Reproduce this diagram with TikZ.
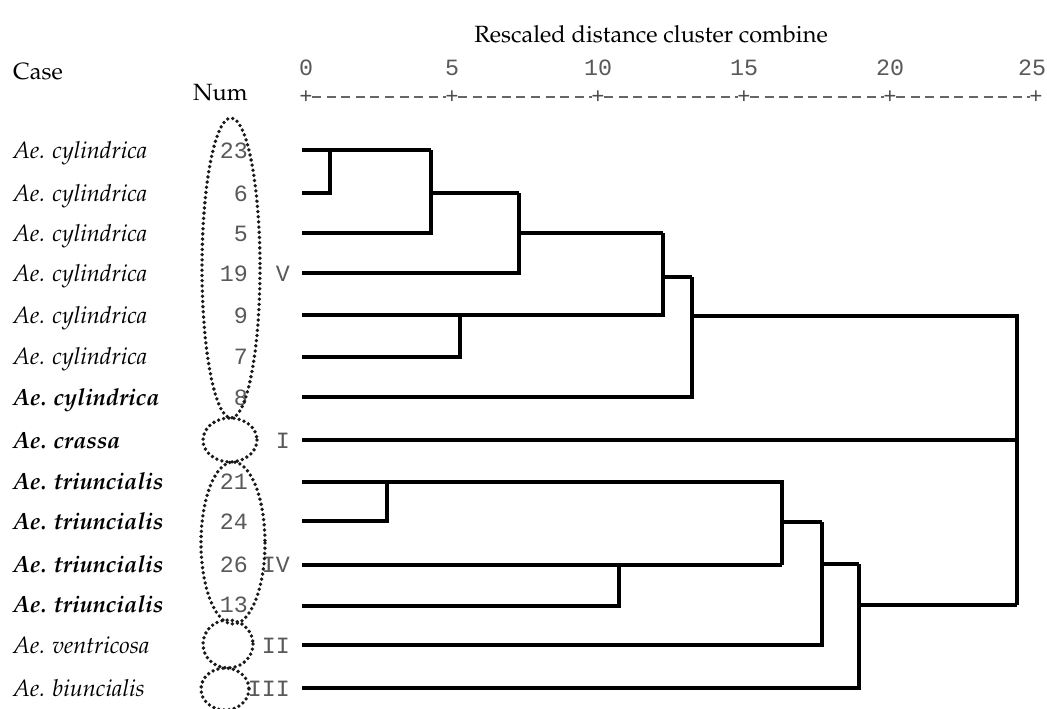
\documentclass[tikz,border=0pt]{standalone}
\usepackage[T1]{fontenc}
\usepackage{fontspec}
\newfontfamily\spssmono{Liberation Mono}
\newcommand\palfont{\fontencoding{T1}\fontfamily{ppl}\selectfont}
\begin{document}
\begin{tikzpicture}[x=1pt,y=-1pt,
  branch/.style={line width=3.2pt,black},
  ring/.style={draw=black!90,line width=3.8pt,dash pattern=on 0pt off 5.2pt,line cap=round},
  caselab/.style={anchor=base west,inner sep=0pt,font=\palfont\fontsize{23.5}{28}\selectfont\itshape},
  caselabb/.style={caselab,font=\palfont\fontsize{23.5}{28}\selectfont\bfseries\itshape},
  numlab/.style={anchor=base east,inner sep=0pt,text=black!65,font=\spssmono\fontsize{23.3}{28}\selectfont},
  axnum/.style={anchor=base,inner sep=0pt,text=black!65,font=\spssmono\fontsize{23.3}{28}\selectfont},
  tickmark/.style={inner sep=0pt,text=black!70,font=\spssmono\fontsize{22}{26}\selectfont},
  axisdash/.style={draw=black!60,line width=1.3pt,dash pattern=on 9pt off 5.6pt},
  head/.style={inner sep=0pt,font=\palfont\fontsize{23.5}{28}\selectfont}]
\useasboundingbox (0,0) rectangle (1047,709);
\fill[white] (0,0) rectangle (1047,709);

% headers
\node[head,anchor=base] (title) at (651,43) {Rescaled distance cluster combine};
\node[head,anchor=base west] (case) at (13,79) {Case};
\node[head,anchor=base west] (num) at (193,100) {Num};

% axis
\foreach \v/\x in {0/306,5/452,10/598,15/744,20/890}
  \node[axnum] (ax\v) at (\x,76) {\v};
\node[axnum] (ax25) at (1032,76) {25};
\foreach \v/\x in {0/306,5/452,10/598,15/744,20/890,25/1036}
  \coordinate (t\v) at (\x,97);
\foreach \a/\b in {0/5,5/10,10/15,15/20,20/25}
  \draw[axisdash] ([xshift=6pt]t\a) -- ([xshift=-6pt]t\b);
\foreach \v in {0,5,10,15,20,25}
  \node[tickmark] (p\v) at (t\v) {+};

% case labels
\node[caselab] (c1) at (13,158) {Ae. cylindrica};
\node[caselab] (c2) at (13,201) {Ae. cylindrica};
\node[caselab] (c3) at (13,241) {Ae. cylindrica};
\node[caselab] (c4) at (13,281) {Ae. cylindrica};
\node[caselab] (c5) at (13,323) {Ae. cylindrica};
\node[caselab] (c6) at (13,364) {Ae. cylindrica};
\node[caselabb] (c7) at (13,405) {Ae. cylindrica};
\node[caselabb] (c8) at (13,448) {Ae. crassa};
\node[caselabb] (c9) at (13,489) {Ae. triuncialis};
\node[caselabb] (c10) at (13,529) {Ae. triuncialis};
\node[caselabb] (c11) at (13,572) {Ae. triuncialis};
\node[caselabb] (c12) at (13,612) {Ae. triuncialis};
\node[caselab] (c13) at (13,653) {Ae. ventricosa};
\node[caselab] (c14) at (13,696) {Ae. biuncialis};

% case numbers
\node[numlab] (n1) at (248,158) {23};
\node[numlab] (n2) at (248,201) {6};
\node[numlab] (n3) at (248,241) {5};
\node[numlab] (n4) at (248,281) {19};
\node[numlab] (n5) at (248,323) {9};
\node[numlab] (n6) at (248,364) {7};
\node[numlab] (n7) at (248,405) {8};
\node[numlab] (n9) at (248,489) {21};
\node[numlab] (n10) at (248,529) {24};
\node[numlab] (n11) at (248,572) {26};
\node[numlab] (n12) at (248,612) {13};

% group labels
\node[numlab] (gV) at (290,281) {V};
\node[numlab] (gI) at (290,448) {I};
\node[numlab] (gIV) at (290,572) {IV};
\node[numlab] (gII) at (290,653) {II};
\node[numlab] (gIII) at (290,696) {III};

% dotted rings
\draw[ring] (231,268) ellipse [x radius=29, y radius=150];
\draw[ring] (230,440) ellipse [x radius=27, y radius=22];
\draw[ring] (233,543) ellipse [x radius=32, y radius=81];
\draw[ring] (228,644) ellipse [x radius=25, y radius=24];
\draw[ring] (225,689) ellipse [x radius=24, y radius=21];

% leaves
\foreach \i/\y in {1/150,2/193,3/233,4/273,5/315,6/357,7/397,8/440,9/482,10/521,11/565,12/606,13/645,14/688}
  \coordinate (l\i) at (302,\y);

% join points
\coordinate (j1) at (330,150);
\coordinate (a1) at (431,150);
\coordinate (a2) at (431,193);
\coordinate (b1) at (519,193);
\coordinate (b2) at (519,233);
\coordinate (c1j) at (663,233);
\coordinate (d1) at (460,315);
\coordinate (c2j) at (663,277);
\coordinate (e1) at (692,277);
\coordinate (e2) at (692,316);
\coordinate (r1) at (1017,316);
\coordinate (r2) at (1017,605);
\coordinate (f1) at (782,482);
\coordinate (f2) at (782,565);
\coordinate (f3) at (782,522);
\coordinate (g1) at (387,482);
\coordinate (h1) at (619,565);
\coordinate (k1) at (822,522);
\coordinate (k2) at (822,564);
\coordinate (m1) at (859,564);
\coordinate (m2) at (859,605);

% upper cluster
\draw[branch] (l1) -- (a1);
\draw[branch] (l2) -| (j1);
\draw[branch] (l3) -| (a1);
\draw[branch] (a2) -- (b1);
\draw[branch] (l4) -| (b1);
\draw[branch] (b2) -- (c1j);
\draw[branch] (l5) -| (c1j);
\draw[branch] (l6) -| (d1);
\draw[branch] (c2j) -- (e1);
\draw[branch] (l7) -| (e1);
\draw[branch] (e2) -- (r1) -- (r2);
\draw[branch] (l8) -- (l8 -| r1);
% lower cluster
\draw[branch] (l9) -- (f1) -- (f2);
\draw[branch] (l10) -| (g1);
\draw[branch] (l11) -- (f2);
\draw[branch] (l12) -| (h1);
\draw[branch] (f3) -- (k1);
\draw[branch] (l13) -| (k1);
\draw[branch] (k2) -- (m1);
\draw[branch] (l14) -| (m1);
\draw[branch] (m2) -- (r2);
\end{tikzpicture}
\end{document}
